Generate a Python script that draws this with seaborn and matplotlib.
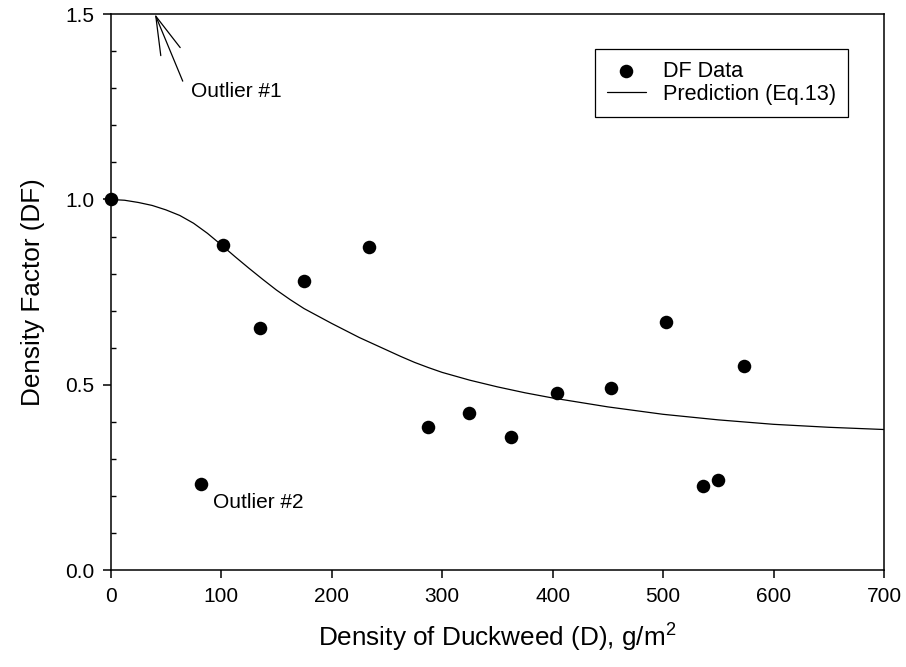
import matplotlib
matplotlib.use("Agg")
import matplotlib.pyplot as plt
from matplotlib.ticker import MultipleLocator, FormatStrFormatter
import seaborn as sns
import pandas as pd

# ---- data ----
density = [0, 102, 135, 175, 234, 287, 324, 362, 404, 453, 503, 536, 550, 573, 82]
df_value = [1.00, 0.878, 0.654, 0.780, 0.872, 0.387, 0.425, 0.360, 0.478, 0.492,
            0.669, 0.228, 0.243, 0.552, 0.234]

curve_x = [0, 12.5, 25, 37.5, 50, 62.5, 75, 87.5, 100, 112.5, 125, 137.5, 150,
           162.5, 175, 187.5, 200, 212.5, 225, 237.5, 250, 262.5, 275, 287.5,
           300, 325, 350, 375, 400, 450, 500, 550, 600, 650, 700]
curve_y = [1.000, 0.998, 0.992, 0.984, 0.972, 0.957, 0.936, 0.909, 0.878, 0.846,
           0.815, 0.785, 0.756, 0.730, 0.706, 0.686, 0.666, 0.647, 0.628, 0.611,
           0.594, 0.577, 0.561, 0.547, 0.534, 0.513, 0.495, 0.479, 0.465, 0.441,
           0.421, 0.406, 0.394, 0.386, 0.380]

x_ticks = [0, 100, 200, 300, 400, 500, 600, 700]
y_ticks = [0.0, 0.5, 1.0, 1.5]

points = pd.DataFrame({"D": density, "DF": df_value})
curve = pd.DataFrame({"D": curve_x, "DF": curve_y})

sns.set_theme(style="ticks")
plt.rcParams["font.family"] = ["Liberation Sans", "DejaVu Sans"]
plt.rcParams["mathtext.fontset"] = "custom"
plt.rcParams["mathtext.rm"] = "Liberation Sans"
for k in ["text.color", "axes.labelcolor", "xtick.color", "ytick.color",
          "axes.edgecolor"]:
    plt.rcParams[k] = "black"

fig = plt.figure(figsize=(9.06, 6.67), dpi=100)
ax = fig.add_axes([0.1222, 0.1447, 0.8535, 0.8343])

sns.lineplot(data=curve, x="D", y="DF", ax=ax, color="black", linewidth=0.9,
             label="Prediction (Eq.13)", estimator=None, sort=False)
sns.scatterplot(data=points, x="D", y="DF", ax=ax, color="black", s=95,
                edgecolor="black", linewidth=0, label="DF Data", clip_on=False,
                zorder=5)

ax.set_xlim(0, 700)
ax.set_ylim(0, 1.5)
ax.set_xticks(x_ticks)
ax.set_yticks(y_ticks)
ax.yaxis.set_minor_locator(MultipleLocator(0.1))
ax.yaxis.set_major_formatter(FormatStrFormatter("%.1f"))

for s in ax.spines.values():
    s.set_linewidth(1.1)
    s.set_color("black")
    s.set_visible(True)

ax.tick_params(axis="both", which="major", direction="out", length=6, width=1.1,
               labelsize=15, colors="black", labelcolor="black", pad=6)
ax.tick_params(axis="y", which="minor", direction="in", length=3.5, width=1.0,
               left=True, colors="black")
ax.tick_params(top=False, right=False, which="both")

ax.set_xlabel(r"Density of Duckweed (D), g/m$^2$", fontsize=18.8, labelpad=10,
              color="black")
ax.set_ylabel("Density Factor (DF)", fontsize=18.8, labelpad=14, color="black")

# annotations
ax.annotate("", xy=(40, 1.5), xytext=(65.2, 1.319), annotation_clip=False,
            arrowprops=dict(arrowstyle="->,head_length=2.3,head_width=0.63",
                            mutation_scale=12, lw=0.9, color="black",
                            shrinkA=0, shrinkB=0))
ax.text(72.7, 1.291, "Outlier #1", fontsize=15, ha="left", va="center",
        color="black")
ax.text(92.9, 0.183, "Outlier #2", fontsize=15, ha="left", va="center",
        color="black")

handles, labels = ax.get_legend_handles_labels()
order = [labels.index("DF Data"), labels.index("Prediction (Eq.13)")]
leg = ax.legend([handles[i] for i in order], [labels[i] for i in order],
                loc="upper right", bbox_to_anchor=(0.9535, 0.937),
                borderaxespad=0, fontsize=15.6, frameon=True, fancybox=False,
                edgecolor="black", framealpha=1, handlelength=1.8,
                handletextpad=0.8, borderpad=0.55, labelspacing=0.08)
leg.get_frame().set_linewidth(0.9)
for t in leg.get_texts():
    t.set_color("black")

fig.savefig("out.png", dpi=100)
